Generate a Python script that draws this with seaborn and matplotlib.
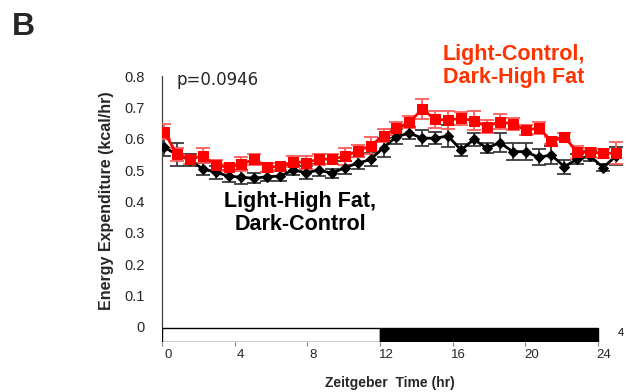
import numpy as np
import pandas as pd
import matplotlib
matplotlib.use("Agg")
import matplotlib.pyplot as plt
import matplotlib.transforms as mtransforms
from matplotlib.patches import Rectangle
import seaborn as sns

# ---------------- data ----------------
bins = list(range(1, 37))  # 40-min bins over the 24 h recording
lhf_dc = [0.573, 0.550, 0.532, 0.504, 0.493, 0.481, 0.477, 0.474, 0.479, 0.481,
          0.500, 0.492, 0.500, 0.490, 0.508, 0.522, 0.534, 0.572, 0.607, 0.618,
          0.602, 0.602, 0.609, 0.564, 0.598, 0.570, 0.588, 0.559, 0.559, 0.541,
          0.548, 0.511, 0.535, 0.545, 0.508, 0.545]
lhf_dc_err = [0.027, 0.036, 0.020, 0.020, 0.020, 0.020, 0.022, 0.016, 0.015, 0.015,
              0.015, 0.020, 0.018, 0.015, 0.020, 0.020, 0.020, 0.030, 0.025, 0.020,
              0.025, 0.020, 0.036, 0.020, 0.022, 0.015, 0.030, 0.028, 0.028, 0.025,
              0.028, 0.022, 0.016, 0.015, 0.012, 0.030]
lc_dhf = [0.623, 0.550, 0.534, 0.546, 0.516, 0.509, 0.519, 0.535, 0.509, 0.512,
          0.527, 0.524, 0.535, 0.535, 0.544, 0.561, 0.578, 0.610, 0.633, 0.653,
          0.695, 0.662, 0.660, 0.665, 0.658, 0.639, 0.655, 0.647, 0.628, 0.634,
          0.594, 0.607, 0.557, 0.557, 0.554, 0.554]
lc_dhf_err = [0.025, 0.020, 0.015, 0.024, 0.017, 0.012, 0.022, 0.018, 0.015, 0.012,
              0.018, 0.022, 0.018, 0.016, 0.027, 0.020, 0.028, 0.020, 0.020, 0.020,
              0.031, 0.028, 0.028, 0.022, 0.030, 0.020, 0.025, 0.020, 0.016, 0.020,
              0.012, 0.012, 0.020, 0.015, 0.015, 0.036]
hour_ticks = [0, 4, 8, 12, 16, 20, 24]
y_ticks = [0, 0.1, 0.2, 0.3, 0.4, 0.5, 0.6, 0.7, 0.8]
y_tick_labels = ["0", "0.1", "0.2", "0.3", "0.4", "0.5", "0.6", "0.7", "0.8"]
phases_start = [0, 12]
phases_len = [12, 12]
phases_color = ["white", "black"]
p_text = "p=0.0946"

df = pd.DataFrame({"bin": bins * 2,
                   "ee": lhf_dc + lc_dhf,
                   "group": ["LHF_DC"] * 36 + ["LC_DHF"] * 36})

# ---------------- figure ----------------
sns.set_style("white")
plt.rcParams["font.family"] = ["Liberation Sans", "DejaVu Sans"]

W, H = 636, 392
fig = plt.figure(figsize=(W / 100, H / 100), dpi=100)

def fx(px):
    return px / W

def fy(py):
    return 1 - py / H

ax_left, ax_right = 162, 625
ax_top, ax_bottom = 76.2, 342.25
ax = fig.add_axes([fx(ax_left), fy(ax_bottom), (ax_right - ax_left) / W,
                   (ax_bottom - ax_top) / H])
ax.set_facecolor("none")
ax.set_ylim(-0.05, 0.8)
ax.set_xlim(0, (ax_right - ax_left) / 18.16)

for s in ["top", "right", "bottom"]:
    ax.spines[s].set_visible(False)
ax.spines["left"].set_bounds(0, 0.8)
ax.spines["left"].set_color("#404040")
ax.spines["left"].set_linewidth(0.9)

ax.set_yticks(y_ticks)
ax.set_yticklabels(y_tick_labels, fontsize=10.5)
ax.set_xticks(hour_ticks)
ax.set_xticklabels([str(h) for h in hour_ticks], fontsize=9.5)
ax.tick_params(axis="y", direction="out", length=3.5, width=0.8, color="#404040", pad=9)
ax.tick_params(axis="x", direction="out", length=3, width=0.8, color="#808080", pad=2)
shift = mtransforms.ScaledTranslation(6 / 100, 0, fig.dpi_scale_trans)
for lab in ax.get_xticklabels():
    lab.set_transform(lab.get_transform() + shift)

# light/dark bar
for st, ln, c in zip(phases_start, phases_len, phases_color):
    ax.add_patch(Rectangle((st, -0.049), ln, 0.045, facecolor=c,
                           edgecolor="black", linewidth=1.0, zorder=2))

# series on a bin-index axis
ax2 = ax.twiny()
ax2.errorbar(bins, lhf_dc, yerr=lhf_dc_err, fmt="none", ecolor="#3a3a3a",
             elinewidth=1.3, capsize=5, capthick=1.3, zorder=3)
ax2.errorbar(bins, lc_dhf, yerr=lc_dhf_err, fmt="none", ecolor="#ff5a5a",
             elinewidth=1.3, capsize=5, capthick=1.3, zorder=4)
sns.lineplot(data=df[df.group == "LHF_DC"], x="bin", y="ee", ax=ax2, color="black",
             marker="D", markersize=5.5, markeredgecolor="black", linewidth=2.0,
             legend=False, zorder=5)
sns.lineplot(data=df[df.group == "LC_DHF"], x="bin", y="ee", ax=ax2, color="#ff0000",
             marker="s", markersize=6.5, markeredgecolor="#ff0000", linewidth=2.0,
             legend=False, zorder=6)
ax2.set_xlim(1 - 2 / 12.914, 36 + 9 / 12.914)
ax2.set_ylim(-0.05, 0.8)
ax2.axis("off")

# ---------------- text ----------------
fig.text(fx(12), fy(35), "B", fontsize=23, fontweight="bold", ha="left", va="baseline")
fig.text(fx(177), fy(80), p_text, fontsize=12, family="DejaVu Sans", ha="left", va="center")
fig.text(fx(443), fy(66), "Light-Control,\nDark-High Fat", fontsize=15.5,
         fontweight="bold", color="#ff3300", ha="left", va="center", linespacing=1.1)
fig.text(fx(300), fy(213), "Light-High Fat,\nDark-Control", fontsize=15.5,
         fontweight="bold", color="black", ha="center", va="center", linespacing=1.1)
fig.text(fx(106), fy(201), "Energy Expenditure (kcal/hr)", fontsize=11.5,
         fontweight="bold", rotation=90, ha="center", va="center")
fig.text(fx(390), fy(383), "Zeitgeber  Time (hr)", fontsize=10,
         fontweight="bold", ha="center", va="center")
fig.text(fx(618), fy(333), "4", fontsize=8, ha="left", va="center", color="black")

fig.savefig("out.png", dpi=100)
